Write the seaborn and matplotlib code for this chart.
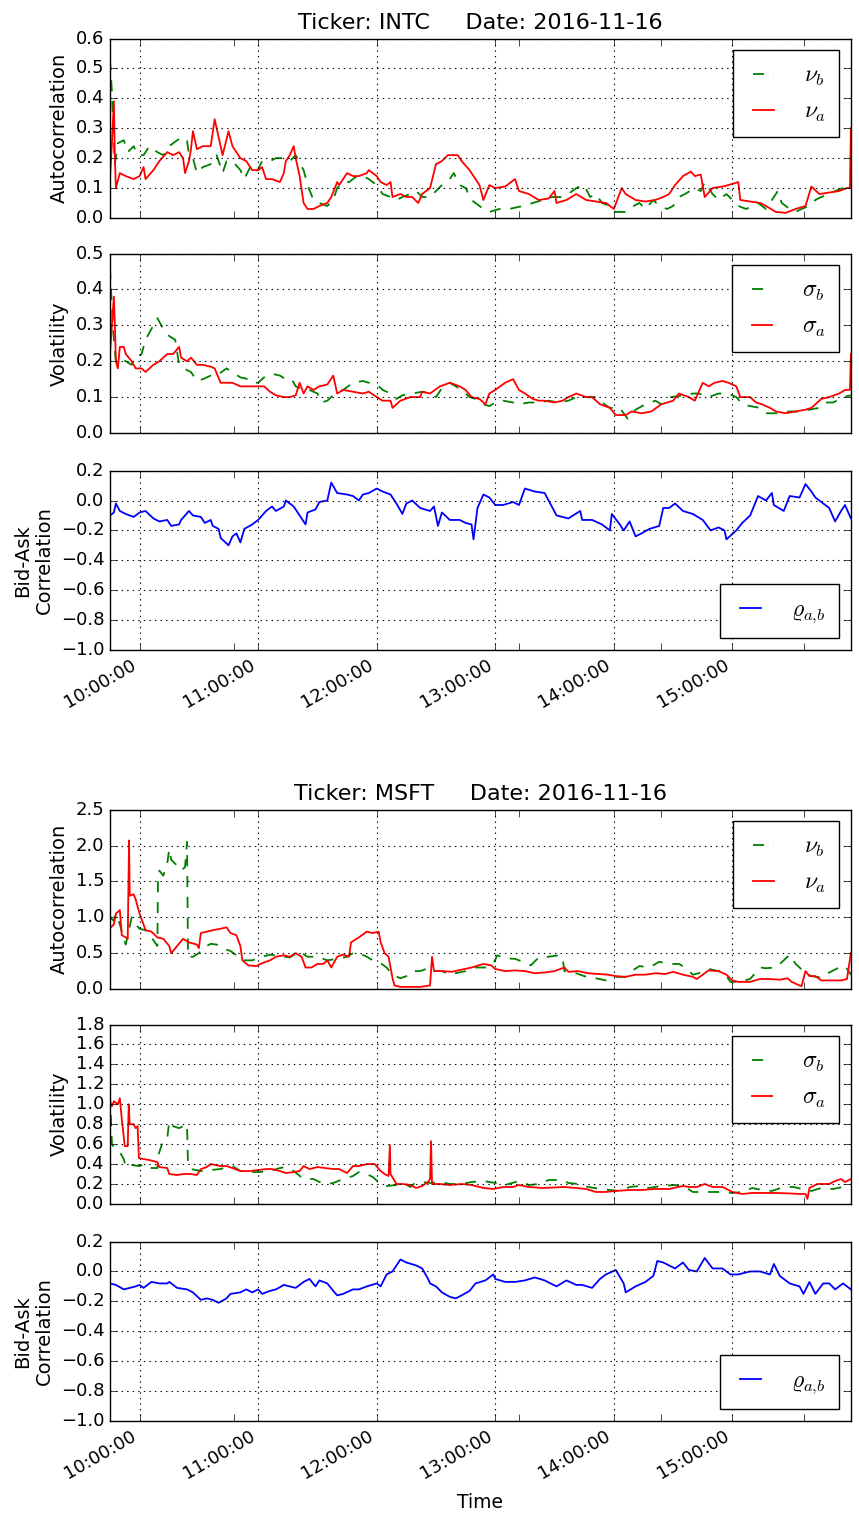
import matplotlib
matplotlib.use("Agg")
import numpy as np
import pandas as pd
import matplotlib.pyplot as plt
import matplotlib.dates as mdates
import matplotlib.ticker as mticker
import seaborn as sns

plt.style.use("classic")
plt.rcParams.update({
    "figure.facecolor": "white",
    "savefig.facecolor": "white",
    "font.family": ["DejaVu Sans"],
    "mathtext.fontset": "cm",
    "xtick.labelsize": 13,
    "ytick.labelsize": 13,
    "axes.labelsize": 14,
    "axes.titlesize": 16,
})

DAY = "2016-11-16"
TICKERS = ["INTC", "MSFT"]

# ---------------- INTC ----------------
intc_nu_b_t = ["09:45","09:46","09:47","09:47:30","09:49","09:52","09:54","09:57","09:59","10:02","10:05","10:09","10:12","10:15","10:19","10:22","10:24","10:25","10:27","10:29","10:32","10:36","10:39","10:42","10:44","10:47","10:51","10:53","10:56","10:59","11:02","11:06","11:09","11:13","11:16","11:19","11:23","11:25","11:28","11:31","11:35","11:38","11:40","11:43","11:46","11:50","11:53","11:56","12:00","12:03","12:07","12:10","12:13","12:17","12:20","12:23","12:27","12:30","12:33","12:37","12:39","12:42","12:45","12:48","12:54","12:57","13:02","13:07","13:14","13:19","13:24","13:29","13:34","13:37","13:41","13:45","13:48","13:51","13:54","13:58","14:01","14:06","14:10","14:13","14:16","14:20","14:23","14:27","14:30","14:33","14:36","14:41","14:44","14:46","14:50","14:53","14:57","15:00","15:03","15:07","15:10","15:13","15:17","15:20","15:23","15:25","15:29","15:32","15:35","15:39","15:42","15:45","15:49","15:52","15:56","16:00"]
intc_nu_b_v = [0.53,0.42,0.25,0.18,0.25,0.26,0.22,0.24,0.21,0.21,0.24,0.22,0.21,0.24,0.26,0.27,0.26,0.21,0.20,0.15,0.17,0.18,0.21,0.15,0.19,0.19,0.16,0.13,0.17,0.15,0.19,0.19,0.20,0.20,0.19,0.21,0.16,0.11,0.06,0.05,0.04,0.06,0.10,0.12,0.12,0.14,0.14,0.13,0.11,0.08,0.07,0.06,0.07,0.08,0.09,0.07,0.07,0.09,0.11,0.13,0.15,0.11,0.10,0.06,0.03,0.02,0.03,0.03,0.04,0.05,0.06,0.07,0.07,0.08,0.10,0.11,0.07,0.08,0.05,0.04,0.02,0.02,0.04,0.05,0.03,0.06,0.04,0.03,0.04,0.07,0.08,0.10,0.09,0.12,0.08,0.06,0.08,0.06,0.04,0.03,0.04,0.05,0.03,0.06,0.09,0.05,0.03,0.02,0.03,0.04,0.06,0.07,0.08,0.09,0.10,0.10]

intc_nu_a_t = ["09:45","09:46","09:47","09:47:30","09:48","09:50","09:53","09:57","10:00","10:02","10:03","10:07","10:10","10:14","10:17","10:20","10:22","10:23","10:25","10:26","10:27","10:29","10:32","10:36","10:38","10:40","10:42","10:45","10:47","10:51","10:54","10:57","11:00","11:02","11:04","11:07","11:11","11:13","11:14","11:16","11:18","11:19","11:21","11:23","11:25","11:28","11:31","11:35","11:37","11:40","11:41","11:45","11:48","11:51","11:55","11:56","12:00","12:02","12:05","12:07","12:08","12:12","12:15","12:18","12:21","12:23","12:27","12:30","12:33","12:36","12:41","12:43","12:47","12:52","12:54","12:57","13:00","13:05","13:10","13:12","13:17","13:22","13:27","13:30","13:31","13:36","13:41","13:46","13:51","13:56","14:00","14:04","14:06","14:11","14:16","14:21","14:25","14:28","14:31","14:35","14:39","14:41","14:44","14:46","14:50","14:55","14:58","15:03","15:04","15:09","15:14","15:17","15:22","15:27","15:32","15:37","15:40","15:44","15:49","15:54","15:58","15:59:30","16:00"]
intc_nu_a_v = [0.13,0.25,0.39,0.20,0.10,0.15,0.14,0.13,0.14,0.17,0.13,0.16,0.19,0.22,0.21,0.22,0.20,0.15,0.19,0.23,0.29,0.23,0.24,0.24,0.33,0.27,0.21,0.29,0.24,0.20,0.19,0.16,0.16,0.17,0.13,0.13,0.12,0.15,0.19,0.21,0.24,0.20,0.14,0.05,0.03,0.03,0.04,0.05,0.07,0.12,0.11,0.15,0.14,0.14,0.15,0.16,0.14,0.12,0.11,0.12,0.07,0.08,0.07,0.07,0.05,0.08,0.10,0.18,0.19,0.21,0.21,0.19,0.16,0.11,0.06,0.11,0.10,0.105,0.13,0.09,0.08,0.06,0.065,0.09,0.05,0.06,0.08,0.06,0.055,0.05,0.03,0.10,0.08,0.06,0.055,0.06,0.07,0.08,0.11,0.14,0.155,0.14,0.145,0.07,0.10,0.105,0.11,0.12,0.06,0.055,0.05,0.04,0.02,0.017,0.03,0.04,0.105,0.08,0.085,0.09,0.10,0.10,0.30]

intc_sig_b_t = ["09:45","09:46","09:47","09:48","09:50","09:53","09:56","09:58","10:01","10:03","10:06","10:09","10:12","10:15","10:18","10:20","10:24","10:26","10:29","10:32","10:36","10:39","10:44","10:47","10:51","10:55","10:57","11:00","11:03","11:07","11:11","11:14","11:17","11:19","11:23","11:26","11:30","11:32","11:35","11:39","11:43","11:48","11:53","11:56","12:00","12:03","12:07","12:10","12:13","12:18","12:23","12:27","12:30","12:33","12:37","12:40","12:43","12:47","12:50","12:54","12:57","13:00","13:04","13:09","13:12","13:17","13:22","13:27","13:32","13:37","13:41","13:46","13:51","13:54","13:58","14:03","14:07","14:11","14:16","14:21","14:24","14:29","14:35","14:40","14:43","14:48","14:53","14:58","15:02","15:05","15:09","15:14","15:17","15:22","15:29","15:34","15:39","15:44","15:47","15:51","15:56","16:00"]
intc_sig_b_v = [0.46,0.35,0.26,0.20,0.21,0.20,0.19,0.21,0.22,0.26,0.29,0.32,0.29,0.27,0.26,0.19,0.175,0.17,0.145,0.15,0.16,0.16,0.18,0.17,0.155,0.15,0.14,0.14,0.155,0.165,0.16,0.15,0.15,0.13,0.12,0.12,0.11,0.085,0.09,0.11,0.12,0.14,0.145,0.14,0.135,0.12,0.11,0.095,0.105,0.11,0.115,0.11,0.10,0.125,0.14,0.13,0.12,0.10,0.095,0.08,0.075,0.085,0.09,0.085,0.08,0.085,0.085,0.09,0.085,0.09,0.10,0.10,0.10,0.085,0.07,0.07,0.04,0.065,0.08,0.09,0.08,0.10,0.105,0.11,0.11,0.10,0.11,0.11,0.10,0.08,0.075,0.07,0.055,0.055,0.06,0.06,0.065,0.07,0.085,0.085,0.10,0.105]

intc_sig_a_t = ["09:45","09:46","09:47","09:47:30","09:48","09:49","09:50","09:52","09:53","09:56","09:58","10:01","10:03","10:07","10:10","10:14","10:17","10:20","10:21","10:24","10:26","10:29","10:32","10:36","10:38","10:41","10:44","10:47","10:51","10:54","10:57","11:00","11:03","11:06","11:09","11:13","11:16","11:19","11:21","11:23","11:25","11:28","11:31","11:35","11:38","11:40","11:43","11:48","11:53","11:56","12:00","12:03","12:07","12:08","12:12","12:17","12:22","12:23","12:27","12:32","12:37","12:42","12:45","12:48","12:52","12:55","12:57","13:00","13:05","13:09","13:12","13:15","13:19","13:22","13:25","13:30","13:34","13:37","13:41","13:46","13:49","13:53","13:58","14:01","14:06","14:09","14:14","14:19","14:24","14:30","14:33","14:38","14:41","14:45","14:48","14:51","14:55","14:58","15:02","15:04","15:09","15:12","15:15","15:19","15:22","15:27","15:32","15:37","15:40","15:45","15:49","15:54","15:57","15:59:30","16:00"]
intc_sig_a_v = [0.22,0.30,0.38,0.30,0.20,0.18,0.24,0.24,0.22,0.20,0.18,0.18,0.17,0.19,0.20,0.22,0.22,0.24,0.21,0.20,0.21,0.19,0.19,0.185,0.18,0.14,0.14,0.14,0.13,0.13,0.13,0.13,0.13,0.115,0.105,0.10,0.10,0.105,0.14,0.11,0.13,0.12,0.13,0.135,0.16,0.11,0.12,0.115,0.11,0.115,0.10,0.09,0.09,0.07,0.09,0.10,0.10,0.115,0.11,0.13,0.14,0.13,0.12,0.10,0.095,0.08,0.11,0.12,0.14,0.15,0.12,0.11,0.095,0.09,0.09,0.085,0.09,0.10,0.11,0.10,0.10,0.08,0.07,0.05,0.05,0.06,0.055,0.06,0.08,0.09,0.11,0.10,0.09,0.14,0.13,0.14,0.145,0.14,0.13,0.10,0.10,0.085,0.08,0.07,0.06,0.055,0.06,0.065,0.07,0.095,0.10,0.11,0.12,0.12,0.22]

intc_rho_t = ["09:45","09:47","09:48","09:50","09:53","09:57","10:00","10:03","10:07","10:10","10:14","10:16","10:20","10:21","10:25","10:27","10:31","10:33","10:36","10:37","10:40","10:41","10:45","10:47","10:49","10:51","10:53","10:57","11:00","11:04","11:07","11:09","11:13","11:14","11:18","11:21","11:24","11:25","11:29","11:31","11:35","11:37","11:40","11:45","11:48","11:51","11:53","11:56","12:00","12:03","12:07","12:10","12:13","12:15","12:18","12:22","12:27","12:29","12:31","12:33","12:37","12:42","12:45","12:48","12:49","12:51","12:54","12:57","13:00","13:04","13:09","13:12","13:15","13:20","13:25","13:29","13:31","13:37","13:43","13:44","13:49","13:54","13:58","13:59","14:03","14:05","14:08","14:11","14:14","14:18","14:23","14:25","14:28","14:31","14:35","14:40","14:45","14:49","14:53","14:56","14:57","15:02","15:05","15:09","15:13","15:17","15:20","15:21","15:26","15:29","15:34","15:37","15:40","15:42","15:46","15:49","15:52","15:55","15:57","16:00"]
intc_rho_v = [-0.10,-0.08,-0.02,-0.07,-0.09,-0.11,-0.08,-0.07,-0.12,-0.14,-0.13,-0.17,-0.16,-0.13,-0.07,-0.10,-0.11,-0.15,-0.13,-0.17,-0.19,-0.25,-0.30,-0.24,-0.22,-0.28,-0.19,-0.16,-0.13,-0.07,-0.04,-0.07,-0.04,0.00,-0.04,-0.10,-0.16,-0.08,-0.06,-0.01,0.00,0.12,0.05,0.04,0.03,0.00,0.04,0.05,0.08,0.06,0.04,-0.02,-0.09,-0.02,0.00,-0.05,-0.07,-0.04,-0.17,-0.08,-0.13,-0.13,-0.15,-0.16,-0.26,-0.05,0.04,0.02,-0.03,-0.03,-0.01,-0.03,0.08,0.06,0.05,-0.05,-0.10,-0.12,-0.07,-0.13,-0.13,-0.16,-0.20,-0.09,-0.16,-0.20,-0.14,-0.24,-0.22,-0.19,-0.17,-0.05,-0.05,-0.02,-0.07,-0.09,-0.13,-0.20,-0.18,-0.20,-0.26,-0.20,-0.15,-0.10,0.03,0.00,0.05,-0.03,-0.07,0.03,0.02,0.11,0.06,0.02,-0.02,-0.05,-0.14,-0.07,-0.03,-0.12]

# ---------------- MSFT ----------------
msft_nu_b_t = ["09:45","09:47","09:48","09:50","09:52","09:53","09:56","09:58","10:00","10:03","10:06","10:09","10:09:20","10:10","10:12","10:14","10:15","10:16","10:19","10:21","10:23","10:24","10:24:30","10:27","10:30","10:32","10:36","10:39","10:42","10:46","10:49","10:52","10:57","11:01","11:06","11:11","11:16","11:21","11:25","11:30","11:35","11:40","11:45","11:48","11:51","11:55","11:58","12:01","12:05","12:08","12:12","12:15","12:18","12:22","12:25","12:27","12:30","12:33","12:37","12:40","12:45","12:50","12:55","12:59","13:01","13:05","13:10","13:15","13:18","13:22","13:27","13:32","13:34","13:35","13:41","13:46","13:51","13:56","14:01","14:06","14:09","14:13","14:18","14:23","14:28","14:33","14:36","14:40","14:43","14:48","14:53","14:56","14:59","15:03","15:09","15:14","15:17","15:22","15:26","15:29","15:32","15:34","15:37","15:40","15:45","15:49","15:54","15:57","16:00"]
msft_nu_b_v = [1.00,0.95,1.05,0.90,0.70,0.62,1.00,0.90,0.84,0.82,0.72,0.60,1.60,1.65,1.58,1.75,1.95,1.80,1.72,1.65,1.70,2.05,0.45,0.45,0.50,0.57,0.63,0.62,0.57,0.53,0.47,0.40,0.40,0.44,0.48,0.46,0.44,0.52,0.45,0.45,0.40,0.42,0.45,0.50,0.50,0.45,0.40,0.38,0.30,0.20,0.15,0.18,0.25,0.25,0.28,0.28,0.25,0.25,0.20,0.22,0.25,0.30,0.30,0.35,0.47,0.43,0.42,0.37,0.33,0.44,0.45,0.47,0.45,0.25,0.22,0.17,0.15,0.12,0.17,0.17,0.25,0.32,0.30,0.38,0.35,0.35,0.30,0.20,0.22,0.28,0.25,0.22,0.10,0.10,0.14,0.30,0.29,0.30,0.40,0.48,0.35,0.30,0.22,0.18,0.16,0.23,0.30,0.32,0.20]

msft_nu_a_t = ["09:45","09:47","09:48","09:50","09:51","09:53","09:54","09:54:40","09:55","09:57","09:58","10:00","10:02","10:03","10:06","10:09","10:12","10:15","10:16","10:19","10:22","10:25","10:29","10:30","10:31","10:34","10:37","10:41","10:44","10:46","10:49","10:51","10:52","10:55","10:59","11:02","11:06","11:09","11:13","11:16","11:19","11:22","11:24","11:27","11:30","11:33","11:35","11:37","11:40","11:43","11:46","11:47","11:51","11:55","11:58","12:01","12:02","12:04","12:06","12:08","12:09","12:12","12:17","12:22","12:27","12:28","12:29","12:33","12:38","12:43","12:48","12:54","12:58","13:00","13:05","13:10","13:15","13:20","13:25","13:30","13:35","13:37","13:42","13:47","13:52","13:57","14:01","14:06","14:11","14:16","14:21","14:26","14:30","14:35","14:40","14:42","14:45","14:48","14:53","14:57","15:00","15:03","15:09","15:14","15:19","15:24","15:28","15:30","15:34","15:35","15:37","15:39","15:42","15:45","15:50","15:55","15:58","16:00"]
msft_nu_a_v = [0.85,0.90,1.05,1.10,0.75,0.72,0.70,2.07,1.30,1.32,1.25,1.05,0.90,0.82,0.80,0.72,0.70,0.60,0.50,0.60,0.70,0.65,0.62,0.57,0.78,0.80,0.82,0.84,0.86,0.78,0.75,0.60,0.40,0.33,0.32,0.36,0.40,0.45,0.47,0.45,0.50,0.45,0.30,0.30,0.35,0.35,0.40,0.30,0.45,0.48,0.45,0.65,0.72,0.80,0.78,0.80,0.65,0.50,0.45,0.15,0.05,0.03,0.03,0.03,0.05,0.45,0.25,0.25,0.24,0.27,0.30,0.35,0.33,0.28,0.25,0.26,0.25,0.22,0.23,0.25,0.30,0.24,0.25,0.22,0.21,0.20,0.18,0.17,0.20,0.20,0.22,0.21,0.24,0.20,0.17,0.14,0.20,0.26,0.25,0.20,0.12,0.10,0.10,0.14,0.14,0.13,0.15,0.10,0.05,0.04,0.25,0.18,0.18,0.12,0.12,0.12,0.14,0.50]

msft_sig_b_t = ["09:45","09:46","09:47","09:50","09:52","09:53","09:56","10:00","10:03","10:06","10:09","10:09:20","10:12","10:14","10:15","10:17","10:20","10:24","10:24:30","10:26","10:31","10:36","10:41","10:44","10:47","10:51","10:56","11:01","11:06","11:11","11:14","11:18","11:23","11:28","11:31","11:35","11:38","11:43","11:48","11:51","11:55","11:58","12:02","12:05","12:10","12:13","12:17","12:20","12:23","12:27","12:32","12:37","12:43","12:48","12:54","13:00","13:05","13:12","13:17","13:22","13:27","13:34","13:37","13:42","13:47","13:53","13:58","14:03","14:08","14:13","14:18","14:24","14:31","14:36","14:40","14:45","14:50","14:55","15:00","15:05","15:10","15:15","15:20","15:26","15:31","15:37","15:40","15:45","15:51","15:56","16:00"]
msft_sig_b_v = [1.10,0.60,0.57,0.52,0.45,0.37,0.39,0.38,0.40,0.36,0.36,0.48,0.64,0.66,0.83,0.78,0.76,0.80,0.40,0.35,0.33,0.34,0.35,0.37,0.38,0.33,0.32,0.32,0.33,0.36,0.37,0.33,0.25,0.25,0.22,0.20,0.21,0.25,0.28,0.32,0.30,0.27,0.20,0.18,0.19,0.22,0.17,0.22,0.22,0.21,0.22,0.20,0.20,0.22,0.23,0.21,0.19,0.23,0.19,0.20,0.24,0.24,0.21,0.20,0.17,0.15,0.14,0.13,0.17,0.18,0.16,0.18,0.19,0.17,0.12,0.12,0.12,0.12,0.11,0.12,0.16,0.14,0.13,0.17,0.17,0.14,0.13,0.16,0.15,0.17,0.18]

msft_sig_a_t = ["09:45","09:46","09:47","09:49","09:50","09:51","09:52:30","09:54","09:54:30","09:55","09:57","09:58","09:59","09:59:40","10:02","10:05","10:09","10:10","10:14","10:15","10:19","10:22","10:26","10:29","10:31","10:34","10:36","10:41","10:44","10:47","10:51","10:56","11:00","11:04","11:07","11:11","11:14","11:18","11:21","11:23","11:26","11:30","11:34","11:38","11:41","11:45","11:48","11:51","11:55","11:59","12:02","12:04","12:06","12:06:40","12:07","12:10","12:13","12:17","12:20","12:23","12:26","12:27","12:27:30","12:28","12:32","12:37","12:43","12:48","12:54","12:59","13:04","13:09","13:12","13:17","13:24","13:30","13:35","13:41","13:46","13:51","13:56","14:01","14:08","14:14","14:21","14:28","14:35","14:38","14:42","14:46","14:50","14:55","15:00","15:05","15:10","15:15","15:22","15:29","15:34","15:37","15:38","15:39","15:43","15:49","15:52","15:55","15:57","16:00"]
msft_sig_a_v = [1.03,0.98,1.03,1.00,1.06,0.85,0.58,0.58,1.00,0.80,0.80,0.76,0.78,0.46,0.45,0.44,0.42,0.37,0.36,0.30,0.29,0.30,0.30,0.29,0.35,0.37,0.40,0.38,0.38,0.36,0.33,0.33,0.34,0.35,0.35,0.33,0.31,0.32,0.33,0.38,0.35,0.37,0.36,0.35,0.35,0.31,0.38,0.38,0.40,0.40,0.33,0.30,0.28,0.59,0.30,0.20,0.20,0.19,0.16,0.18,0.22,0.25,0.63,0.20,0.20,0.19,0.20,0.19,0.16,0.15,0.17,0.17,0.19,0.17,0.16,0.165,0.17,0.16,0.15,0.12,0.12,0.13,0.14,0.14,0.15,0.15,0.18,0.17,0.17,0.20,0.17,0.17,0.12,0.10,0.11,0.11,0.11,0.105,0.10,0.10,0.05,0.16,0.20,0.20,0.23,0.25,0.22,0.25]

msft_rho_t = ["09:45","09:48","09:52","09:55","09:58","10:00","10:02","10:06","10:10","10:14","10:15","10:19","10:24","10:27","10:31","10:34","10:37","10:40","10:44","10:46","10:51","10:54","10:57","11:00","11:02","11:06","11:09","11:13","11:16","11:19","11:23","11:26","11:29","11:31","11:35","11:38","11:40","11:43","11:48","11:51","11:55","12:00","12:02","12:05","12:08","12:12","12:15","12:20","12:23","12:26","12:27","12:30","12:33","12:37","12:40","12:43","12:47","12:50","12:55","12:59","13:00","13:05","13:10","13:15","13:20","13:25","13:31","13:36","13:41","13:44","13:49","13:53","13:56","14:01","14:05","14:06","14:11","14:16","14:20","14:22","14:25","14:28","14:31","14:35","14:38","14:42","14:46","14:50","14:55","14:59","15:03","15:09","15:14","15:19","15:21","15:24","15:29","15:34","15:36","15:39","15:42","15:46","15:49","15:52","15:56","16:00"]
msft_rho_v = [-0.08,-0.09,-0.12,-0.11,-0.10,-0.09,-0.11,-0.07,-0.08,-0.08,-0.07,-0.11,-0.12,-0.14,-0.19,-0.18,-0.19,-0.21,-0.18,-0.15,-0.14,-0.12,-0.14,-0.12,-0.15,-0.13,-0.12,-0.09,-0.10,-0.11,-0.07,-0.05,-0.10,-0.06,-0.08,-0.13,-0.16,-0.15,-0.12,-0.12,-0.10,-0.08,-0.10,-0.02,0.00,0.08,0.06,0.04,0.02,-0.05,-0.08,-0.10,-0.14,-0.17,-0.18,-0.16,-0.13,-0.08,-0.06,-0.02,-0.05,-0.07,-0.07,-0.06,-0.04,-0.06,-0.10,-0.06,-0.09,-0.09,-0.11,-0.05,-0.02,0.01,-0.08,-0.14,-0.10,-0.07,-0.03,0.07,0.06,0.04,0.02,0.06,0.01,0.00,0.09,0.02,0.02,-0.02,-0.02,0.00,0.00,-0.02,0.05,-0.03,-0.08,-0.10,-0.15,-0.07,-0.15,-0.08,-0.08,-0.12,-0.08,-0.12]

# axis settings (values)
acf_yticks = {"INTC": np.arange(0, 0.61, 0.1), "MSFT": np.arange(0, 2.51, 0.5)}
vol_yticks = {"INTC": np.arange(0, 0.51, 0.1), "MSFT": np.arange(0, 1.81, 0.2)}
rho_yticks = np.arange(-1.0, 0.21, 0.2)
hour_ticks = ["10:00", "11:00", "12:00", "13:00", "14:00", "15:00"]
minor_ticks = ["10:48", "12:00", "13:12", "14:24", "15:36"]
x_start, x_end = "09:45", "16:00"

DATA = {
    "INTC": dict(nu_b=(intc_nu_b_t, intc_nu_b_v), nu_a=(intc_nu_a_t, intc_nu_a_v),
                 sig_b=(intc_sig_b_t, intc_sig_b_v), sig_a=(intc_sig_a_t, intc_sig_a_v),
                 rho=(intc_rho_t, intc_rho_v)),
    "MSFT": dict(nu_b=(msft_nu_b_t, msft_nu_b_v), nu_a=(msft_nu_a_t, msft_nu_a_v),
                 sig_b=(msft_sig_b_t, msft_sig_b_v), sig_a=(msft_sig_a_t, msft_sig_a_v),
                 rho=(msft_rho_t, msft_rho_v)),
}


def ts(times):
    return pd.to_datetime([f"{DAY} {t if len(t) > 5 else t + ':00'}" for t in times])


GREEN, RED, BLUE = (0, 0.5, 0), (1, 0, 0), (0, 0, 1)
DASH = (0, (8, 7))
LW = 1.3
leg_kw = dict(fontsize=17, handlelength=1.45, handletextpad=1.0, borderpad=0.55,
              labelspacing=0.45, borderaxespad=0.5, framealpha=1, fancybox=False)

fig = plt.figure(figsize=(8.59, 15.23), dpi=100)
left, width, height = 0.128, 0.8626, 0.1178
bottoms = {"INTC": [0.8569, 0.7157, 0.5732], "MSFT": [0.3506, 0.2095, 0.0670]}


def style_x(ax, show_labels):
    ax.set_xlim(ts([x_start])[0], ts([x_end])[0])
    ax.xaxis.set_major_locator(mticker.FixedLocator(mdates.date2num(ts(hour_ticks))))
    ax.xaxis.set_major_formatter(mdates.DateFormatter("%H:%M:%S"))
    ax.xaxis.set_minor_locator(mticker.FixedLocator(mdates.date2num(ts(minor_ticks))))
    ax.tick_params(axis="both", which="both", direction="in", top=True, right=True)
    ax.tick_params(which="major", length=5)
    ax.tick_params(which="minor", length=5)
    ax.grid(True, which="major", color="k", linestyle=":", linewidth=0.8)
    ax.set_xlabel("")
    if show_labels:
        for lab in ax.get_xticklabels():
            lab.set_rotation(30)
            lab.set_ha("right")
    else:
        ax.tick_params(labelbottom=False)


for tk in TICKERS:
    d = DATA[tk]
    b1, b2, b3 = bottoms[tk]
    ax1 = fig.add_axes([left, b1, width, height])
    ax2 = fig.add_axes([left, b2, width, height])
    ax3 = fig.add_axes([left, b3, width, height])

    sns.lineplot(x=ts(d["nu_b"][0]), y=d["nu_b"][1], ax=ax1, color=GREEN, linestyle=DASH,
                 lw=LW, label=r"$\nu_b$", estimator=None, sort=False)
    sns.lineplot(x=ts(d["nu_a"][0]), y=d["nu_a"][1], ax=ax1, color=RED, lw=LW,
                 label=r"$\nu_a$", estimator=None, sort=False)
    ax1.set_ylim(acf_yticks[tk][0], acf_yticks[tk][-1])
    ax1.set_yticks(acf_yticks[tk])
    ax1.set_ylabel("Autocorrelation")
    ax1.set_title(f"Ticker: {tk}     Date: {DAY}", pad=7)
    ax1.legend(loc="upper right", **leg_kw)
    style_x(ax1, False)

    sns.lineplot(x=ts(d["sig_b"][0]), y=d["sig_b"][1], ax=ax2, color=GREEN, linestyle=DASH,
                 lw=LW, label=r"$\sigma_b$", estimator=None, sort=False)
    sns.lineplot(x=ts(d["sig_a"][0]), y=d["sig_a"][1], ax=ax2, color=RED, lw=LW,
                 label=r"$\sigma_a$", estimator=None, sort=False)
    ax2.set_ylim(vol_yticks[tk][0], vol_yticks[tk][-1])
    ax2.set_yticks(vol_yticks[tk])
    ax2.set_ylabel("Volatility")
    ax2.legend(loc="upper right", **leg_kw)
    style_x(ax2, False)

    sns.lineplot(x=ts(d["rho"][0]), y=d["rho"][1], ax=ax3, color=BLUE, lw=LW,
                 label=r"$\varrho_{a,\!b}$", estimator=None, sort=False)
    ax3.set_ylim(rho_yticks[0], rho_yticks[-1])
    ax3.set_yticks(rho_yticks)
    ax3.set_ylabel("Bid-Ask\nCorrelation")
    ax3.legend(loc="lower right", **leg_kw)
    style_x(ax3, True)
    if tk == "MSFT":
        ax3.set_xlabel("Time", fontsize=13.5, labelpad=8)

fig.savefig("out.png", dpi=100, facecolor="white")
